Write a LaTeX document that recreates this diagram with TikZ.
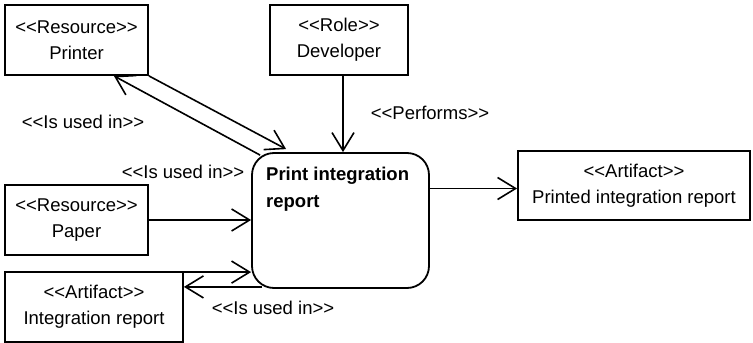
\documentclass[tikz,border=0pt]{standalone}
\usepackage{fontspec}
\setmainfont{Liberation Sans}
\usetikzlibrary{arrows.meta,calc}
% stereotype label: keep the angle brackets from turning into guillemets
\newcommand\stereo[1]{<{}<#1>{}>}
\begin{document}
\begin{tikzpicture}[x=1pt,y=-1pt,
  every node/.style={font=\fontsize{18.5}{26}\selectfont, inner sep=0pt},
  box/.style={draw, line width=1.8pt, minimum width=#1, minimum height=70pt, align=center},
  procbox/.style={draw, line width=1.8pt, rounded corners=22pt, minimum width=177pt, minimum height=135pt},
  flow/.style={line width=1.6pt, -{Straight Barb[length=18pt,width=22pt]}},
  lbl/.style={}]
  \fill[white] (0,0) rectangle (753,343);
  \useasboundingbox (0,0) rectangle (753,343);

  % elements
  \node[box=143pt] (printer) at (76.5,40) {\stereo{Resource}\\Printer};
  \node[box=138pt] (dev) at (339,40) {\stereo{Role}\\Developer};
  \node[procbox] (proc) at (340.5,220.5) {};
  \node[anchor=north west, align=left, font=\fontsize{18.5}{27}\selectfont\bfseries] (proctext) at (266,167) {Print integration\\report};
  \node[box=232pt, minimum height=69pt] (printed) at (634,185.5) {\stereo{Artifact}\\Printed integration report};
  \node[box=143pt] (paper) at (76.5,220) {\stereo{Resource}\\Paper};
  \node[box=178pt] (intrep) at (94,307) {\stereo{Artifact}\\Integration report};

  % connector end points
  \coordinate (prOut) at ($(proc.north west)+(35,-3)$);
  \coordinate (prIn)  at ($(proc.north west)+(9,3)$);
  \coordinate (prTip) at ($(printer.south east)+(-35,0)$);
  \coordinate (irOut) at ($(intrep.north east)+(0,1)$);
  \coordinate (irIn)  at ($(proc.south west)+(11,-2)$);
  \coordinate (ptIn)  at ($(printed.west)+(0,3)$);

  % connectors
  \draw[flow] (printer.south east) -- (prOut);
  \draw[flow] (prIn) -- (prTip);
  \draw[flow] (dev.south -| 343,0) -- (proc.north -| 343,0);
  \draw[flow] (paper.east) -- (paper.east -| proc.west);
  \draw[flow] (irOut) -- (irOut -| proc.west);
  \draw[flow] (irIn) -- (irIn -| intrep.east);
  \draw[flow] (ptIn -| proc.east) -- (ptIn);

  % connector labels
  \node[lbl] (l1) at (83,122) {\stereo{Is used in}};
  \node[lbl] (l2) at (183,172) {\stereo{Is used in}};
  \node[lbl] (l3) at (430,113) {\stereo{Performs}};
  \node[lbl] (l4) at (273,308) {\stereo{Is used in}};
\end{tikzpicture}
\end{document}
